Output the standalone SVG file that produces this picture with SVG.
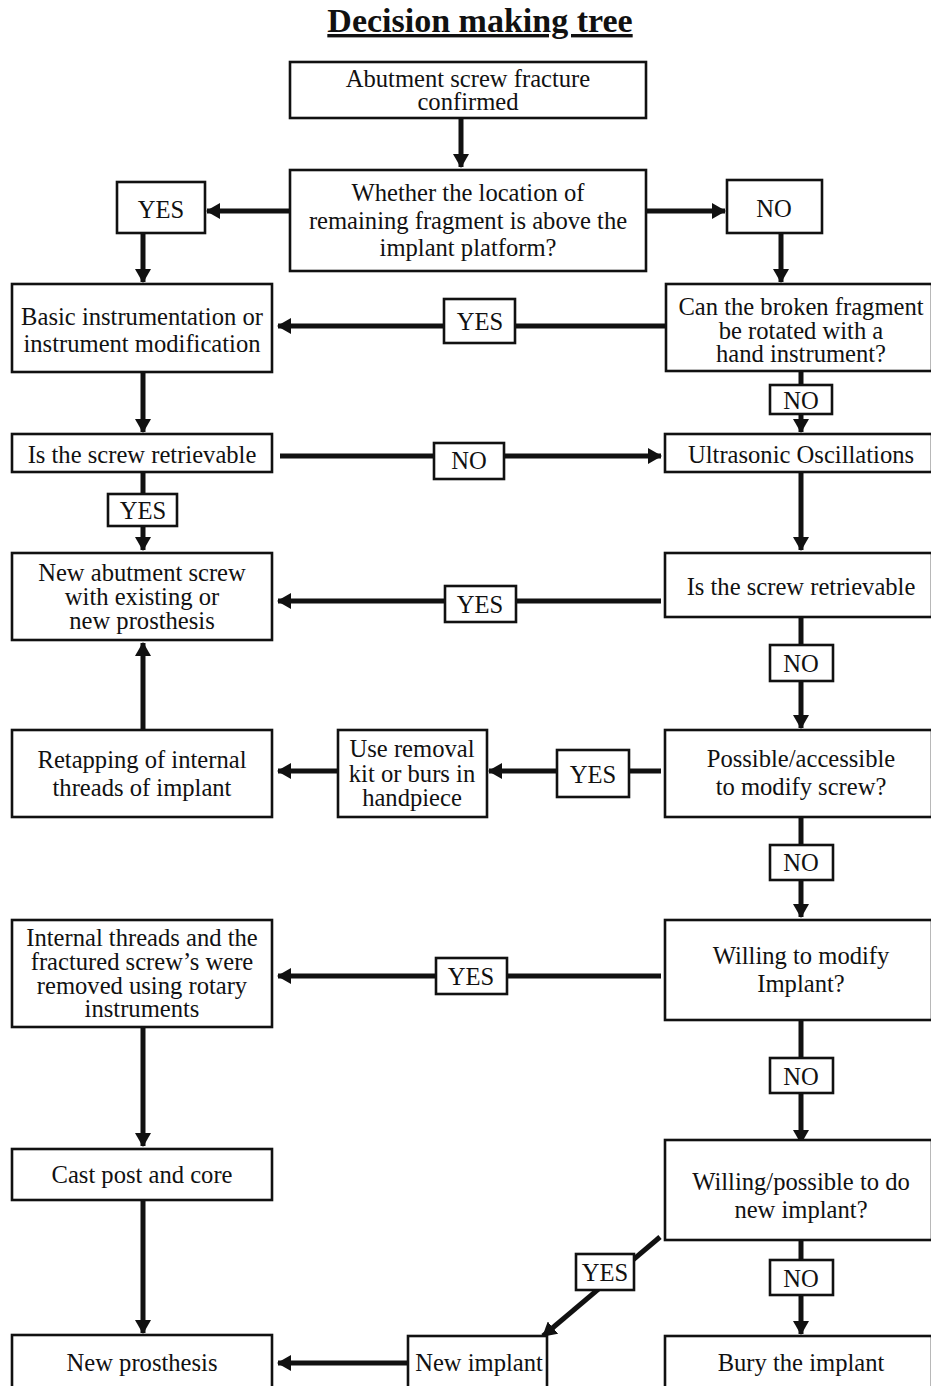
<svg xmlns="http://www.w3.org/2000/svg" width="931" height="1386" viewBox="0 0 931 1386">
<style>
.b{fill:#fff;stroke:#111;stroke-width:2.6}
.t{font-family:"Liberation Serif","Times New Roman",serif;font-size:24.6px;fill:#111;text-anchor:middle;dominant-baseline:central}
.c{stroke:#111;stroke-width:5;fill:none}
.h{font-family:"Liberation Serif","Times New Roman",serif;font-size:34px;font-weight:bold;fill:#111;text-anchor:middle;text-decoration:underline}
</style>
<defs>
<marker id="ah" markerUnits="userSpaceOnUse" markerWidth="14" markerHeight="16" refX="13" refY="8" orient="auto">
<path d="M0,0 L14,8 L0,16 z" fill="#111"/>
</marker>
</defs>
<rect width="931" height="1386" fill="#fff"/>
<text class="h" x="480" y="32">Decision making tree</text>

<g id="connectors">
<line class="c" x1="461" y1="118" x2="461" y2="167" marker-end="url(#ah)"/>
<line class="c" x1="290" y1="211" x2="207" y2="211" marker-end="url(#ah)"/>
<line class="c" x1="646" y1="211" x2="725" y2="211" marker-end="url(#ah)"/>
<line class="c" x1="143" y1="233" x2="143" y2="282" marker-end="url(#ah)"/>
<line class="c" x1="781" y1="233" x2="781" y2="282" marker-end="url(#ah)"/>
<line class="c" x1="666" y1="326" x2="278" y2="326" marker-end="url(#ah)"/>
<line class="c" x1="801" y1="371" x2="801" y2="432" marker-end="url(#ah)"/>
<line class="c" x1="143" y1="372" x2="143" y2="432" marker-end="url(#ah)"/>
<line class="c" x1="280" y1="456" x2="661" y2="456" marker-end="url(#ah)"/>
<line class="c" x1="143" y1="472" x2="143" y2="550" marker-end="url(#ah)"/>
<line class="c" x1="801" y1="472" x2="801" y2="550" marker-end="url(#ah)"/>
<line class="c" x1="661" y1="601" x2="278" y2="601" marker-end="url(#ah)"/>
<line class="c" x1="801" y1="617" x2="801" y2="728" marker-end="url(#ah)"/>
<line class="c" x1="661" y1="771" x2="489" y2="771" marker-end="url(#ah)"/>
<line class="c" x1="338" y1="771" x2="278" y2="771" marker-end="url(#ah)"/>
<line class="c" x1="143" y1="730" x2="143" y2="643" marker-end="url(#ah)"/>
<line class="c" x1="801" y1="817" x2="801" y2="917" marker-end="url(#ah)"/>
<line class="c" x1="661" y1="976" x2="278" y2="976" marker-end="url(#ah)"/>
<line class="c" x1="143" y1="1027" x2="143" y2="1146" marker-end="url(#ah)"/>
<line class="c" x1="801" y1="1020" x2="801" y2="1143" marker-end="url(#ah)"/>
<line class="c" x1="143" y1="1200" x2="143" y2="1333" marker-end="url(#ah)"/>
<line class="c" x1="801" y1="1240" x2="801" y2="1334" marker-end="url(#ah)"/>
<line class="c" x1="660" y1="1237" x2="543" y2="1336" marker-end="url(#ah)"/>
<line class="c" x1="408" y1="1363" x2="278" y2="1363" marker-end="url(#ah)"/>
</g>

<g id="n1"><rect class="b" x="290" y="62" width="356" height="56"/><text class="t" x="468" y="78">Abutment screw fracture</text><text class="t" x="468" y="101">confirmed</text></g>
<g id="n2"><rect class="b" x="290" y="170" width="356" height="101"/><text class="t" x="468" y="192">Whether the location of</text><text class="t" x="468" y="220">remaining fragment is above the</text><text class="t" x="468" y="247">implant platform?</text></g>
<g id="l_yes1"><rect class="b" x="117" y="182" width="88" height="51"/><text class="t" x="161" y="209">YES</text></g>
<g id="l_no1"><rect class="b" x="727" y="180" width="95" height="53"/><text class="t" x="774" y="208">NO</text></g>
<g id="n3"><rect class="b" x="12" y="284" width="260" height="88"/><text class="t" x="142" y="316">Basic instrumentation or</text><text class="t" x="142" y="343">instrument modification</text></g>
<g id="n4"><rect class="b" x="666" y="284" width="266" height="87"/><text class="t" x="801" y="306">Can the broken fragment</text><text class="t" x="801" y="330">be rotated with a</text><text class="t" x="801" y="353">hand instrument?</text></g>
<g id="l_yes2"><rect class="b" x="444" y="299" width="71" height="44"/><text class="t" x="480" y="321">YES</text></g>
<g id="l_no2"><rect class="b" x="770" y="385" width="62" height="29"/><text class="t" x="801" y="400">NO</text></g>
<g id="n5"><rect class="b" x="665" y="434" width="267" height="38"/><text class="t" x="801" y="454">Ultrasonic Oscillations</text></g>
<g id="n6"><rect class="b" x="12" y="434" width="260" height="38"/><text class="t" x="142" y="454">Is the screw retrievable</text></g>
<g id="l_no3"><rect class="b" x="434" y="443" width="70" height="36"/><text class="t" x="469" y="460">NO</text></g>
<g id="l_yes3"><rect class="b" x="108" y="494" width="69" height="32"/><text class="t" x="143" y="510">YES</text></g>
<g id="n7"><rect class="b" x="12" y="553" width="260" height="87"/><text class="t" x="142" y="572">New abutment screw</text><text class="t" x="142" y="596">with existing or</text><text class="t" x="142" y="620">new prosthesis</text></g>
<g id="n8"><rect class="b" x="665" y="553" width="267" height="64"/><text class="t" x="801" y="586">Is the screw retrievable</text></g>
<g id="l_yes4"><rect class="b" x="445" y="586" width="71" height="36"/><text class="t" x="480" y="604">YES</text></g>
<g id="l_no4"><rect class="b" x="770" y="645" width="63" height="36"/><text class="t" x="801" y="663">NO</text></g>
<g id="n9"><rect class="b" x="665" y="730" width="267" height="87"/><text class="t" x="801" y="758">Possible/accessible</text><text class="t" x="801" y="786">to modify screw?</text></g>
<g id="l_yes5"><rect class="b" x="557" y="750" width="72" height="47"/><text class="t" x="593" y="774">YES</text></g>
<g id="n10"><rect class="b" x="338" y="730" width="149" height="87"/><text class="t" x="412" y="748">Use removal</text><text class="t" x="412" y="773">kit or burs in</text><text class="t" x="412" y="797">handpiece</text></g>
<g id="n11"><rect class="b" x="12" y="730" width="260" height="87"/><text class="t" x="142" y="759">Retapping of internal</text><text class="t" x="142" y="787">threads of implant</text></g>
<g id="l_no5"><rect class="b" x="770" y="845" width="63" height="35"/><text class="t" x="801" y="862">NO</text></g>
<g id="n12"><rect class="b" x="665" y="920" width="267" height="100"/><text class="t" x="801" y="955">Willing to modify</text><text class="t" x="801" y="983">Implant?</text></g>
<g id="l_yes6"><rect class="b" x="436" y="958" width="71" height="36"/><text class="t" x="471" y="976">YES</text></g>
<g id="n13"><rect class="b" x="12" y="920" width="260" height="107"/><text class="t" x="142" y="937">Internal threads and the</text><text class="t" x="142" y="961">fractured screw’s were</text><text class="t" x="142" y="985">removed using rotary</text><text class="t" x="142" y="1008">instruments</text></g>
<g id="n14"><rect class="b" x="12" y="1149" width="260" height="51"/><text class="t" x="142" y="1174">Cast post and core</text></g>
<g id="l_no6"><rect class="b" x="770" y="1058" width="63" height="35"/><text class="t" x="801" y="1076">NO</text></g>
<g id="n15"><rect class="b" x="665" y="1140" width="267" height="100"/><text class="t" x="801" y="1181">Willing/possible to do</text><text class="t" x="801" y="1209">new implant?</text></g>
<g id="l_no7"><rect class="b" x="770" y="1260" width="63" height="35"/><text class="t" x="801" y="1278">NO</text></g>
<g id="l_yes7"><rect class="b" x="576" y="1254" width="58" height="36"/><text class="t" x="605" y="1272">YES</text></g>
<g id="n16"><rect class="b" x="665" y="1336" width="267" height="60"/><text class="t" x="801" y="1362">Bury the implant</text></g>
<g id="n17"><rect class="b" x="408" y="1336" width="139" height="60"/><text class="t" x="479" y="1362">New implant</text></g>
<g id="n18"><rect class="b" x="12" y="1335" width="260" height="61"/><text class="t" x="142" y="1362">New prosthesis</text></g>
</svg>
